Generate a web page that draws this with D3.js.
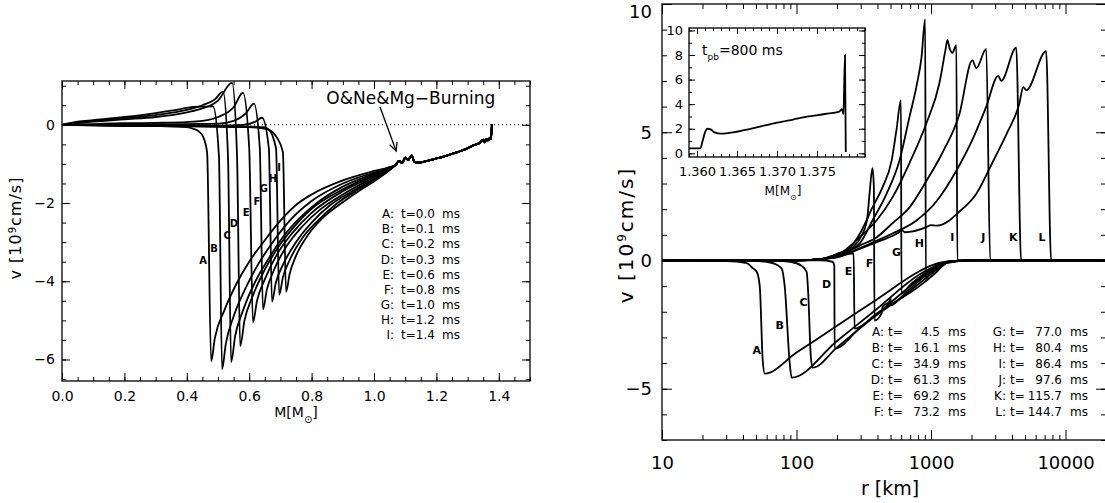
<!DOCTYPE html>
<html>
<head>
<meta charset="utf-8">
<script src="https://cdn.jsdelivr.net/npm/d3@7"></script>
<style>
body { margin: 0; background: #fff; }
svg { display: block; }
text { font-family: "DejaVu Sans", sans-serif; fill: #000; }
</style>
</head>
<body>
<script>
// ---- left panel: v(M) right after bounce ----
const leftNames = ["A", "B", "C", "D", "E", "F", "G", "H", "I"]
const leftTimes = ["0.0", "0.1", "0.2", "0.3", "0.6", "0.8", "1.0", "1.2", "1.4"]
const lA = [[0,0],[0.1,-0.01],[0.2,-0.02],[0.3,-0.03],[0.4,-0.06],[0.42,-0.1],[0.44,-0.18],[0.452,-0.3],[0.465,-0.7],[0.478,-6.05],[0.49,-5.45],[0.52,-4.75],[0.56,-4.05],[0.6,-3.5],[0.65,-2.95],[0.7,-2.45],[0.75,-2.05],[0.8,-1.78],[0.9,-1.42],[1.0,-1.18],[1.05,-1.08]]
const lB = [[0,0],[0.05,0.08],[0.1,0.12],[0.2,0.2],[0.3,0.3],[0.38,0.4],[0.42,0.46],[0.484,0.47],[0.503,-0.8],[0.513,-6.25],[0.525,-5.6],[0.55,-4.9],[0.59,-4.15],[0.63,-3.55],[0.68,-2.95],[0.73,-2.45],[0.8,-1.95],[0.9,-1.5],[1.0,-1.22],[1.05,-1.09]]
const lC = [[0,0],[0.05,0.06],[0.1,0.1],[0.2,0.17],[0.3,0.25],[0.4,0.38],[0.45,0.5],[0.49,0.65],[0.516,0.85],[0.532,-0.8],[0.542,-6.07],[0.555,-5.4],[0.58,-4.75],[0.62,-4.0],[0.66,-3.45],[0.71,-2.85],[0.76,-2.4],[0.82,-1.98],[0.9,-1.58],[1.0,-1.25],[1.05,-1.1]]
const lD = [[0,0],[0.1,0.08],[0.2,0.14],[0.3,0.2],[0.4,0.32],[0.45,0.42],[0.5,0.62],[0.545,1.07],[0.561,-0.8],[0.571,-5.66],[0.585,-5.0],[0.61,-4.4],[0.65,-3.7],[0.7,-3.05],[0.75,-2.55],[0.8,-2.15],[0.9,-1.65],[1.0,-1.28],[1.05,-1.11]]
const lE = [[0,0],[0.1,0.02],[0.2,0.04],[0.3,0.05],[0.4,0.07],[0.45,0.1],[0.5,0.2],[0.55,0.45],[0.58,0.82],[0.6,-0.6],[0.612,-5.05],[0.625,-4.5],[0.65,-3.95],[0.69,-3.3],[0.74,-2.75],[0.8,-2.25],[0.9,-1.7],[1.0,-1.31],[1.05,-1.12]]
const lF = [[0,0],[0.2,0.01],[0.4,0.02],[0.5,0.03],[0.55,0.1],[0.59,0.3],[0.615,0.54],[0.634,-0.6],[0.644,-4.72],[0.657,-4.2],[0.68,-3.7],[0.72,-3.1],[0.77,-2.6],[0.83,-2.15],[0.9,-1.78],[1.0,-1.34],[1.05,-1.13]]
const lG = [[0,0],[0.2,0],[0.4,-0.01],[0.5,-0.02],[0.58,0.0],[0.62,0.08],[0.641,0.18],[0.663,-0.6],[0.673,-4.52],[0.685,-4.05],[0.71,-3.55],[0.75,-3.0],[0.8,-2.5],[0.86,-2.05],[0.93,-1.7],[1.0,-1.38],[1.05,-1.14]]
const lH = [[0,0],[0.2,-0.02],[0.4,-0.03],[0.55,-0.04],[0.62,-0.05],[0.645,-0.06],[0.66,-0.1],[0.686,-0.6],[0.696,-4.35],[0.708,-3.9],[0.73,-3.45],[0.77,-2.9],[0.82,-2.45],[0.88,-2.02],[0.95,-1.65],[1.0,-1.42],[1.05,-1.15]]
const lI = [[0,0],[0.2,-0.03],[0.4,-0.04],[0.6,-0.06],[0.66,-0.12],[0.683,-0.26],[0.708,-0.7],[0.718,-4.27],[0.73,-3.8],[0.75,-3.35],[0.79,-2.8],[0.84,-2.35],[0.9,-1.98],[0.96,-1.65],[1.0,-1.45],[1.05,-1.16]]
// shared outer part (burning shell and surface)
const lTail = [[1.07,-1.02],[1.08,-0.92],[1.09,-0.98],[1.1,-0.84],[1.11,-0.9],[1.12,-0.78],[1.13,-0.95],[1.14,-0.97],[1.18,-0.9],[1.22,-0.82],[1.26,-0.72],[1.3,-0.6],[1.32,-0.52],[1.34,-0.46],[1.35,-0.38],[1.355,-0.45],[1.36,-0.36],[1.365,-0.4],[1.372,-0.33],[1.375,-0.36],[1.378,0.02]]
const leftLabelPos = [[0.452,-3.46],[0.487,-3.15],[0.529,-2.82],[0.551,-2.53],[0.59,-2.23],[0.625,-1.95],[0.647,-1.64],[0.676,-1.36],[0.696,-1.08]]
const leftXTicks = [0, 0.2, 0.4, 0.6, 0.8, 1.0, 1.2, 1.4]
const leftYTicks = [-6, -4, -2, 0]

// ---- right panel: v(r), later times ----
const rightNames = ["A", "B", "C", "D", "E", "F", "G", "H", "I", "J", "K", "L"]
const rightTimes = ["4.5", "16.1", "34.9", "61.3", "69.2", "73.2", "77.0", "80.4", "86.4", "97.6", "115.7", "144.7"]
const rA = [[10,0],[30,-0.02],[42.7,-0.1],[47.3,-0.3],[50.7,-0.45],[53.3,-1.0],[56.1,-3.9],[58.1,-4.41],[100,-3.59],[200,-2.55],[400,-1.5],[820,-0.42],[1000,-0.2],[1300,-0.05],[2000,0],[20000,0]]
const rB = [[10,0],[40,0],[60,-0.05],[72,-0.18],[77.7,-0.32],[81.7,-1.0],[89,-4.0],[92,-4.57],[200,-3.14],[400,-1.87],[820,-0.55],[1000,-0.3],[1300,-0.07],[2000,0],[20000,0]]
const rC = [[10,0],[60,0],[90,-0.05],[110,-0.22],[119,-0.45],[122,-1.2],[128,-3.8],[132,-4.18],[200,-3.39],[400,-2.08],[820,-0.72],[1000,-0.4],[1300,-0.08],[2000,0],[20000,0]]
const rD = [[10,0],[100,0],[150,0],[185,-0.05],[191,-0.2],[192,-3.44],[300,-2.6],[500,-1.75],[820,-1.0],[1100,-0.45],[1300,-0.1],[2000,0],[20000,0]]
const rE = [[10,0],[100,0],[150,0.05],[200,0.15],[266,0.28],[270,-2.66],[400,-2.05],[600,-1.45],[900,-0.72],[1200,-0.22],[1400,-0.03],[2000,0],[20000,0]]
const rF = [[10,0],[100,0],[150,0.05],[200,0.2],[260,0.5],[300,0.9],[335,1.6],[349,2.6],[367,3.6],[376,2.85],[380,-2.34],[430,-2.05],[436,-1.8],[491,-1.6],[500,-1.45],[505,-1.75],[620,-1.35],[900,-0.62],[1200,-0.2],[1400,-0.03],[2000,0],[20000,0]]
const rG = [[10,0],[100,0],[150,0.05],[200,0.25],[260,0.6],[300,1.1],[367,2.07],[436,2.85],[510,3.9],[554,5.1],[598,6.25],[603,-1.29],[700,-0.95],[900,-0.5],[1100,-0.2],[1300,-0.05],[2000,0],[20000,0]]
const rH = [[10,0],[100,0],[150,0.05],[200,0.25],[294,0.66],[367,1.56],[467,2.6],[583,3.9],[692,5.6],[780,6.8],[849,7.9],[905,9.4],[915,-0.7],[1000,-0.45],[1200,-0.15],[1400,-0.03],[2000,0],[20000,0]]
const rI = [[10,0],[100,0],[150,0.05],[200,0.2],[294,0.9],[393,1.56],[517,2.46],[692,3.8],[924,5.35],[1153,6.9],[1280,8.2],[1324,8.6],[1370,8.3],[1442,8.1],[1543,8.4],[1570,0],[20000,0]]
const rJ = [[10,0],[100,0],[150,0.05],[200,0.15],[300,0.6],[393,0.9],[517,1.45],[692,2.07],[924,3.1],[1216,4.2],[1625,5.7],[2029,7.8],[2173,7.5],[2575,8.25],[2755,0],[20000,0]]
const rK = [[10,0],[100,0],[150,0.05],[200,0.15],[367,0.7],[517,1.05],[780,1.56],[1096,2.3],[1543,3.5],[2029,4.7],[2575,6.0],[3162,7.2],[3326,7.0],[4301,8.3],[4677,0],[20000,0]]
const rL = [[10,0],[100,0],[150,0.05],[200,0.12],[294,0.45],[436,0.8],[560,1.05],[610,1.17],[640,1.1],[924,1.3],[1000,1.38],[1100,1.36],[1369,1.56],[1543,1.8],[2173,2.6],[2851,3.8],[3700,5.0],[4529,6.1],[4853,6.76],[5105,6.64],[7178,8.16],[7820,0],[20000,0]]
const rightLabelPos = [[50.7,-3.49],[75,-2.51],[113,-1.62],[167.5,-0.92],[244,-0.41],[349,-0.1],[554,0.33],[820,0.68],[1442,0.92],[2450,0.92],[4084,0.92],[6700,0.92]]
const rightXTicks = [10, 100, 1000, 10000]
const rightYTicks = [-5, 0, 5, 10]

// ---- inset: t_pb = 800 ms ----
const insetCurve = [[1.3590,0.4],[1.3604,0.4],[1.3607,1.0],[1.3610,1.7],[1.3613,2.0],[1.3617,1.95],[1.3622,1.7],[1.3630,1.6],[1.3645,1.7],[1.3660,1.9],[1.3680,2.2],[1.3700,2.5],[1.3720,2.75],[1.3740,3.0],[1.3760,3.2],[1.3778,3.4],[1.3781,3.6],[1.3783,3.2],[1.3785,8.0],[1.3786,0.1]]
const insetXTicks = [1.360, 1.365, 1.370, 1.375]
const insetYTicks = [0, 2, 4, 6, 8, 10]

const svg = d3.select("body").append("svg").attr("width", 1105).attr("height", 503)

function frame(g, x, y, xMaj, xMin, yMaj, yMin, big, small, xFmt, yFmt, fs, padX, padY) {
  const [x0, x1] = x.range(), [y0, y1] = y.range()
  const clean = s => s.select(".domain").remove()
  g.append("g").attr("class", "xlab").attr("transform", `translate(0,${y0})`).call(d3.axisBottom(x).tickValues(xMaj).tickSize(-big).tickPadding(padX).tickFormat(xFmt)).call(clean)
    .selectAll("text").style("font-size", fs + "px")
  g.append("g").attr("transform", `translate(0,${y0})`).call(d3.axisBottom(x).tickValues(xMin).tickSize(-small).tickFormat("")).call(clean)
  g.append("g").attr("transform", `translate(0,${y1})`).call(d3.axisTop(x).tickValues(xMaj).tickSize(-big).tickFormat("")).call(clean)
  g.append("g").attr("transform", `translate(0,${y1})`).call(d3.axisTop(x).tickValues(xMin).tickSize(-small).tickFormat("")).call(clean)
  g.append("g").attr("class", "ylab").attr("transform", `translate(${x0},0)`).call(d3.axisLeft(y).tickValues(yMaj).tickSize(-big).tickPadding(padY).tickFormat(yFmt)).call(clean)
    .selectAll("text").style("font-size", fs + "px")
  g.append("g").attr("transform", `translate(${x0},0)`).call(d3.axisLeft(y).tickValues(yMin).tickSize(-small).tickFormat("")).call(clean)
  g.append("g").attr("transform", `translate(${x1},0)`).call(d3.axisRight(y).tickValues(yMaj).tickSize(-big).tickFormat("")).call(clean)
  g.append("g").attr("transform", `translate(${x1},0)`).call(d3.axisRight(y).tickValues(yMin).tickSize(-small).tickFormat("")).call(clean)
  g.selectAll(".tick line").attr("stroke", "#000")
  g.append("rect").attr("x", x0).attr("y", y1).attr("width", x1 - x0).attr("height", y0 - y1)
    .attr("fill", "none").attr("stroke", "#000").attr("stroke-width", 1.3)
}
const minus = s => s.replace("-", "\u2212")

// ================= LEFT =================
const xL = d3.scaleLinear([0, 1.5], [62, 530])
const yL = d3.scaleLinear([-6.55, 1.12], [381, 81])
const gL = svg.append("g")
gL.append("line").attr("x1", xL(0)).attr("x2", xL(1.5)).attr("y1", yL(0)).attr("y2", yL(0))
  .attr("stroke", "#000").attr("stroke-dasharray", "1,3")
const lineL = d3.line().x(d => xL(d[0])).y(d => yL(d[1])).curve(d3.curveMonotoneX)
gL.selectAll("path.curve").data([lA, lB, lC, lD, lE, lF, lG, lH, lI].map(c => c.concat(lTail))).enter()
  .append("path").attr("class", "curve").attr("d", lineL)
  .attr("fill", "none").attr("stroke", "#000").attr("stroke-width", 1.8).attr("stroke-linejoin", "round")
frame(gL, xL, yL, leftXTicks, d3.range(0, 1.501, 0.05), leftYTicks, d3.range(-6.5, 1.01, 0.5), 8, 4,
  d3.format(".1f"), d => minus(String(d)), 14, 10, 7)
gL.selectAll("text.lab").data(leftNames).enter().append("text").attr("class", "lab")
  .attr("x", (d, i) => xL(leftLabelPos[i][0])).attr("y", (d, i) => yL(leftLabelPos[i][1]))
  .attr("dy", "0.35em").attr("text-anchor", "middle").style("font-size", "10px").style("font-weight", "bold").text(d => d)
// legend
leftNames.forEach((n, i) => {
  const y = 214 + i * 15.1
  gL.append("text").attr("x", 394).attr("y", y).attr("dy", "0.35em").attr("text-anchor", "end").style("font-size", "12px").text(n + ":")
  gL.append("text").attr("x", 401).attr("y", y).attr("dy", "0.35em").style("font-size", "12px").text("t=" + leftTimes[i])
  gL.append("text").attr("x", 442).attr("y", y).attr("dy", "0.35em").style("font-size", "12px").text("ms")
})
// annotation
gL.append("text").attr("x", xL(1.118)).attr("y", yL(0.69)).attr("dy", "0.35em").attr("text-anchor", "middle")
  .style("font-size", "17px").text("O&Ne&Mg\u2212Burning")
const ax0 = [xL(1.019), yL(0.46)], ax1 = [xL(1.071), yL(-0.67)]
gL.append("line").attr("x1", ax0[0]).attr("y1", ax0[1]).attr("x2", ax1[0]).attr("y2", ax1[1]).attr("stroke", "#000").attr("stroke-width", 1.3)
const ang = Math.atan2(ax1[1] - ax0[1], ax1[0] - ax0[0])
gL.append("path").attr("d", `M${ax1[0] - 9 * Math.cos(ang - 0.45)},${ax1[1] - 9 * Math.sin(ang - 0.45)}L${ax1[0]},${ax1[1]}L${ax1[0] - 9 * Math.cos(ang + 0.45)},${ax1[1] - 9 * Math.sin(ang + 0.45)}`)
  .attr("fill", "none").attr("stroke", "#000").attr("stroke-width", 1.3)
// axis titles
const tL = gL.append("text").attr("transform", "translate(21,228) rotate(-90)").attr("text-anchor", "middle")
  .style("font-size", "16px").style("letter-spacing", "1px")
tL.append("tspan").text("v  [10")
tL.append("tspan").attr("baseline-shift", "super").style("font-size", "10px").text("9")
tL.append("tspan").text("cm/s]")
const mL = gL.append("text").attr("x", 296).attr("y", 417).attr("text-anchor", "middle").style("font-size", "14px")
mL.append("tspan").text("M[M")
mL.append("tspan").attr("baseline-shift", "sub").style("font-size", "10px").text("\u2299")
mL.append("tspan").text("]")

// ================= RIGHT =================
const xR = d3.scaleLog([10, 20000], [662, 1106])
const yR = d3.scaleLinear([-7, 10], [440, 4])
const gR = svg.append("g")
const lineR = d3.line().x(d => xR(d[0])).y(d => yR(d[1])).curve(d3.curveMonotoneX)
gR.selectAll("path.curve").data([rA, rB, rC, rD, rE, rF, rG, rH, rI, rJ, rK, rL]).enter()
  .append("path").attr("class", "curve").attr("d", lineR)
  .attr("fill", "none").attr("stroke", "#000").attr("stroke-width", 1.8).attr("stroke-linejoin", "round")
frame(gR, xR, yR, rightXTicks, xR.ticks().filter(v => !rightXTicks.includes(v)), rightYTicks, d3.range(-7, 10.01, 1), 10, 5,
  d => String(d), d => minus(String(d)), 18, 16, 10)
// keep the top "10" inside the picture, as in the original
gR.selectAll(".ylab .tick text").filter(d => d === 10).attr("dy", "0.75em")
gR.selectAll("text.lab").data(rightNames).enter().append("text").attr("class", "lab")
  .attr("x", (d, i) => xR(rightLabelPos[i][0])).attr("y", (d, i) => yR(rightLabelPos[i][1]))
  .attr("dy", "0.35em").attr("text-anchor", "middle").style("font-size", "11px").style("font-weight", "bold").text(d => d)
rightNames.forEach((n, i) => {
  const col = Math.floor(i / 6), x0 = col ? 992 : 870, y = 332 + (i % 6) * 16
  gR.append("text").attr("x", x0 + 14).attr("y", y).attr("dy", "0.35em").attr("text-anchor", "end").style("font-size", "12px").text(n + ":")
  gR.append("text").attr("x", x0 + 18).attr("y", y).attr("dy", "0.35em").style("font-size", "12px").text("t=")
  gR.append("text").attr("x", x0 + 70).attr("y", y).attr("dy", "0.35em").attr("text-anchor", "end").style("font-size", "12px").text(rightTimes[i])
  gR.append("text").attr("x", x0 + 78).attr("y", y).attr("dy", "0.35em").style("font-size", "12px").text("ms")
})
const tR = gR.append("text").attr("transform", "translate(633,235) rotate(-90)").attr("text-anchor", "middle")
  .style("font-size", "20px").style("letter-spacing", "2px")
tR.append("tspan").text("v  [10")
tR.append("tspan").attr("baseline-shift", "super").style("font-size", "12px").text("9")
tR.append("tspan").text("cm/s]")
gR.append("text").attr("x", 890).attr("y", 495).attr("text-anchor", "middle").style("font-size", "19px").text("r  [km]")

// ---- inset ----
const xI = d3.scaleLinear([1.359, 1.381], [689, 865])
const yI = d3.scaleLinear([-0.3, 10.2], [157, 28])
const gI = svg.append("g")
gI.append("rect").attr("x", 689).attr("y", 28).attr("width", 176).attr("height", 129).attr("fill", "#fff")
gI.append("path").datum(insetCurve).attr("d", d3.line().x(d => xI(d[0])).y(d => yI(d[1])).curve(d3.curveMonotoneX))
  .attr("fill", "none").attr("stroke", "#000").attr("stroke-width", 1.8)
frame(gI, xI, yI, insetXTicks, d3.range(1.359, 1.3811, 0.001), insetYTicks, d3.range(0, 10.01, 1), 6, 3,
  d3.format(".3f"), d => String(d), 13, 10, 6)
const tp = gI.append("text").attr("x", 702).attr("y", 55).style("font-size", "14px")
tp.append("tspan").text("t")
tp.append("tspan").attr("baseline-shift", "sub").style("font-size", "9px").text("pb")
tp.append("tspan").text("=800  ms")
const mI = gI.append("text").attr("x", 783).attr("y", 195).attr("text-anchor", "middle").style("font-size", "12px")
mI.append("tspan").text("M[M")
mI.append("tspan").attr("baseline-shift", "sub").style("font-size", "8px").text("\u2299")
mI.append("tspan").text("]")
</script>
</body>
</html>
